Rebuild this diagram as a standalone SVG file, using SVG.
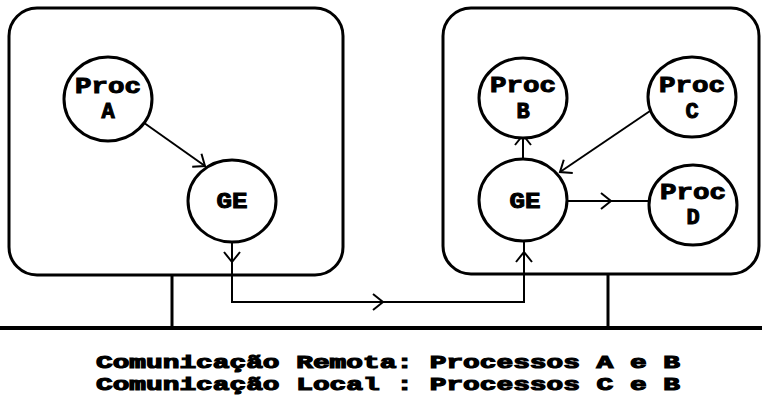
<svg xmlns="http://www.w3.org/2000/svg" width="762" height="399" viewBox="0 0 762 399">
<style>
.box{fill:none;stroke:#000;stroke-width:3}
.node{fill:#fff;stroke:#000;stroke-width:3}
.lbl{font-family:"Liberation Mono","DejaVu Sans Mono",monospace;font-weight:bold;font-size:22px;fill:#000;stroke:#000;stroke-width:1;text-anchor:middle}
.cap{font-family:"Liberation Mono","DejaVu Sans Mono",monospace;font-weight:bold;font-size:19px;fill:#000;stroke:#000;stroke-width:1.2}
.con{fill:none;stroke:#000;stroke-width:2}
.bus{fill:none;stroke:#000;stroke-width:4}
.stem{fill:none;stroke:#000;stroke-width:3}
</style>
<defs>
<marker id="chev" viewBox="-12 -10 14 20" refX="0" refY="0" markerWidth="14" markerHeight="20" markerUnits="userSpaceOnUse" orient="auto">
<path d="M-10,-8 L0,0 L-10,8" fill="none" stroke="#000" stroke-width="2"/>
</marker>
</defs>
<rect width="762" height="399" fill="#fff"/>
<g id="hostA"><rect class="box" x="9" y="8" width="334" height="267" rx="28" ry="28"/></g>
<g id="hostB"><rect class="box" x="443" y="8" width="316" height="266" rx="28" ry="28"/></g>
<g id="network">
<line class="bus" x1="0" y1="328" x2="762" y2="328"/>
<line class="stem" x1="172" y1="275" x2="172" y2="328"/>
<line class="stem" x1="608" y1="274" x2="608" y2="328"/>
</g>
<g id="connectors">
<line class="con" x1="140" y1="120" x2="205" y2="166" marker-end="url(#chev)"/>
<path class="con" d="M232,242 L232,302 L524,302 L524,241"/>
<line class="con" x1="232" y1="250" x2="232" y2="262" marker-end="url(#chev)"/>
<line class="con" x1="372" y1="302" x2="383" y2="302" marker-end="url(#chev)"/>
<line class="con" x1="524" y1="264" x2="524" y2="252" marker-end="url(#chev)"/>
<line class="con" x1="523" y1="158" x2="523" y2="135" marker-end="url(#chev)"/>
<line class="con" x1="650" y1="111" x2="560" y2="172" marker-end="url(#chev)"/>
<line class="con" x1="567" y1="201" x2="649" y2="201"/>
<line class="con" x1="600" y1="201" x2="611" y2="201" marker-end="url(#chev)"/>
</g>
<g id="procA"><ellipse class="node" cx="108" cy="99" rx="44" ry="42"/><text class="lbl" x="108" y="93" textLength="66" lengthAdjust="spacingAndGlyphs">Proc</text><text class="lbl" x="108" y="118">A</text></g>
<g id="geA"><ellipse class="node" cx="232" cy="201" rx="44" ry="41"/><text class="lbl" x="232" y="208" textLength="31" lengthAdjust="spacingAndGlyphs">GE</text></g>
<g id="procB"><ellipse class="node" cx="523" cy="98" rx="44" ry="40"/><text class="lbl" x="523" y="92" textLength="66" lengthAdjust="spacingAndGlyphs">Proc</text><text class="lbl" x="523" y="118">B</text></g>
<g id="procC"><ellipse class="node" cx="692" cy="97" rx="44" ry="40"/><text class="lbl" x="692" y="92" textLength="66" lengthAdjust="spacingAndGlyphs">Proc</text><text class="lbl" x="692" y="118">C</text></g>
<g id="geB"><ellipse class="node" cx="523" cy="200" rx="44" ry="41"/><text class="lbl" x="525" y="208" textLength="31" lengthAdjust="spacingAndGlyphs">GE</text></g>
<g id="procD"><ellipse class="node" cx="693" cy="205" rx="44" ry="40"/><text class="lbl" x="693" y="199" textLength="66" lengthAdjust="spacingAndGlyphs">Proc</text><text class="lbl" x="693" y="224">D</text></g>
<g id="caption">
<text class="cap" x="96" y="368" textLength="584" lengthAdjust="spacingAndGlyphs">Comunicação Remota: Processos A e B</text>
<text class="cap" x="96" y="390" textLength="584" lengthAdjust="spacingAndGlyphs">Comunicação Local : Processos C e B</text>
</g>
</svg>
